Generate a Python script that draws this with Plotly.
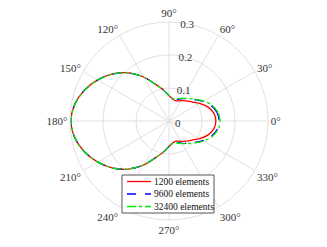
import plotly.graph_objects as go

# angles (degrees), upper half 0..180; lower half mirrored
theta_half = [0, 10, 20, 30, 40, 50, 60, 70, 80, 90, 100, 110, 120, 130, 140, 150, 160, 170, 180]

r_1200_half = [0.142, 0.138, 0.125, 0.107, 0.090, 0.080, 0.071, 0.065, 0.067, 0.077, 0.095, 0.118, 0.154, 0.190, 0.222, 0.249, 0.273, 0.290, 0.297]
r_9600_half = [0.152, 0.148, 0.136, 0.119, 0.101, 0.088, 0.078, 0.070, 0.069, 0.077, 0.095, 0.118, 0.154, 0.190, 0.222, 0.249, 0.273, 0.290, 0.297]
r_32400_half = [0.155, 0.151, 0.139, 0.121, 0.103, 0.089, 0.079, 0.071, 0.069, 0.077, 0.095, 0.118, 0.154, 0.190, 0.222, 0.249, 0.273, 0.290, 0.297]

series_names = ["1200 elements", "9600 elements", "32400 elements"]
angle_ticks = [0, 30, 60, 90, 120, 150, 180, 210, 240, 270, 300, 330]
radial_ticks = [0, 0.1, 0.2, 0.3]


def full(half):
    return half + half[-2::-1]


theta = theta_half + [360 - t for t in theta_half[-2::-1]]

FONT = "Liberation Serif"
W, H = 327, 247
OFF = 8  # page body margin offset of the embedded figure

fig = go.Figure()
styles = [("#ff0000", "solid"), ("#0000ff", "dash"), ("#00ee00", "dashdot")]
for name, rh, (col, dash) in zip(series_names, [r_1200_half, r_9600_half, r_32400_half], styles):
    fig.add_trace(go.Scatterpolar(
        r=full(rh), theta=theta, mode="lines", name=name, showlegend=False,
        line=dict(color=col, width=1.3, dash=dash, shape="spline", smoothing=0.8),
    ))


def px(x):
    return (x - OFF) / W


def py(y):
    return 1 - (y - OFF) / H


# legend drawn as a framed box
shapes = [dict(type="rect", xref="paper", yref="paper",
               x0=px(122), x1=px(214), y0=py(213), y1=py(175),
               line=dict(color="#555555", width=1), fillcolor="white", layer="above")]
annotations = []
rows = [181.5, 194, 206.5]
for name, (col, dash), yr in zip(series_names, styles, rows):
    shapes.append(dict(type="line", xref="paper", yref="paper",
                       x0=px(127), x1=px(151), y0=py(yr), y1=py(yr),
                       line=dict(color=col, width=1.3, dash=dash), layer="above"))
    annotations.append(dict(text=name, xref="paper", yref="paper", x=px(151.5), y=py(yr),
                            xanchor="left", yanchor="middle", showarrow=False,
                            font=dict(family=FONT, size=9.5, color="#111111")))

cx, cy, R = 169, 121, 99
fig.update_layout(
    width=W, height=H,
    margin=dict(l=0, r=0, t=0, b=0),
    paper_bgcolor="white",
    showlegend=False,
    font=dict(family=FONT, size=11, color="#333333"),
    polar=dict(
        domain=dict(x=[px(cx - R), px(cx + R)], y=[py(cy + R), py(cy - R)]),
        bgcolor="white",
        radialaxis=dict(
            range=[0, 0.3], tickvals=radial_ticks, ticktext=["0", "0.1", "0.2", "0.3"],
            angle=87, tickangle=87, side="clockwise", showline=False, ticks="",
            gridcolor="#e0e0e0", gridwidth=1,
            tickfont=dict(family=FONT, size=11, color="#333333"),
        ),
        angularaxis=dict(
            tickvals=angle_ticks, ticktext=[f"{a}°" for a in angle_ticks],
            direction="counterclockwise", rotation=0,
            showline=True, linecolor="#e0e0e0", linewidth=1,
            gridcolor="#e0e0e0", gridwidth=1, ticks="",
            tickfont=dict(family=FONT, size=11, color="#333333"),
        ),
    ),
    shapes=shapes,
    annotations=annotations,
)

fig.write_html("out.html")
